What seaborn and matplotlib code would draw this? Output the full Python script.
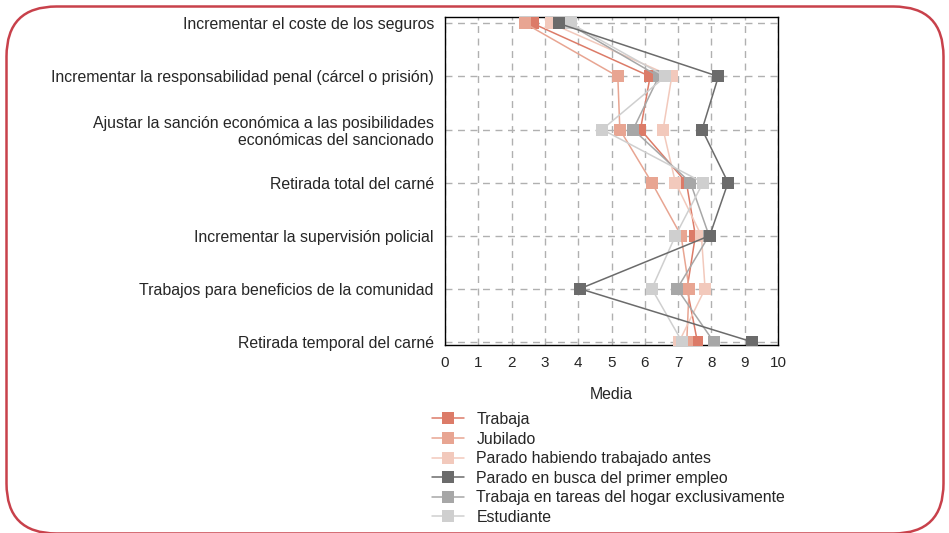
import numpy as np
import pandas as pd
import matplotlib
matplotlib.use("Agg")
import matplotlib.pyplot as plt
import seaborn as sns
from matplotlib.patches import FancyBboxPatch

sns.set_style("white")
plt.rcParams['font.family'] = ['Liberation Sans', 'DejaVu Sans']

# ==========================================================
# DATA
# ==========================================================

medidas = [
    "Incrementar el coste de los seguros",
    "Incrementar la responsabilidad penal (cárcel o prisión)",
    "Ajustar la sanción económica a las posibilidades\neconómicas del sancionado",
    "Retirada total del carné",
    "Incrementar la supervisión policial",
    "Trabajos para beneficios de la comunidad",
    "Retirada temporal del carné",
]

grupos = [
    "Trabaja",
    "Jubilado",
    "Parado habiendo trabajado antes",
    "Parado en busca del primer empleo",
    "Trabaja en tareas del hogar exclusivamente",
    "Estudiante",
]

trabaja = [2.63, 6.16, 5.87, 7.25, 7.52, 7.27, 7.58]
jubilado = [2.40, 5.19, 5.25, 6.21, 7.09, 7.33, 7.26]
parado_antes = [3.19, 6.81, 6.55, 6.92, 7.70, 7.81, 7.03]
parado_primer = [3.41, 8.21, 7.72, 8.50, 7.95, 4.05, 9.22]
hogar = [3.68, 6.42, 5.65, 7.37, 7.93, 6.97, 8.07]
estudiante = [3.77, 6.62, 4.72, 7.75, 6.92, 6.21, 7.12]

colores = ["#dc7b68", "#e8a592", "#f2c9bc", "#6b6b6b", "#a7a7a7", "#cfcfcf"]

valores = [trabaja, jubilado, parado_antes, parado_primer, hogar, estudiante]

df = pd.concat([
    pd.DataFrame({"grupo": g, "pos": np.arange(len(medidas)), "media": v})
    for g, v in zip(grupos, valores)
])

# ==========================================================
# FIGURE
# ==========================================================

fig = plt.figure(figsize=(9.49, 5.33), dpi=100)
ax = fig.add_axes([445/949, 1-345/533, 333/949, 328/533])

for g, c in zip(grupos, colores):
    sns.lineplot(
        data=df[df["grupo"] == g],
        x="media",
        y="pos",
        orient="y",
        sort=False,
        color=c,
        marker="s",
        markersize=8,
        markeredgewidth=0,
        linewidth=1.1,
        label=g,
        ax=ax,
        zorder=5 if g == "Parado en busca del primer empleo" else 3,
        legend=False,
    )

ax.set_xlim(0, 10)
ax.set_ylim(6.06, -0.12)
ax.set_xticks(range(0, 11))
ax.set_yticks(range(len(medidas)))
ax.set_yticklabels(medidas, fontsize=11.4)
ax.tick_params(axis="x", labelsize=11, length=5, width=1, direction="out", pad=3, color="black")
ax.tick_params(axis="y", length=5, width=1, direction="out", pad=3, color="black")
ax.set_xlabel("Media", fontsize=11.4, labelpad=12)
ax.set_ylabel("")

ax.grid(True, color="#b0b0b0", linestyle=(0, (5, 4)), linewidth=1)
ax.set_axisbelow(True)
for s in ax.spines.values():
    s.set_color("black")
    s.set_linewidth(1)

ax.legend(
    loc="upper left",
    bbox_to_anchor=(432/949, 1-412/533),
    bbox_transform=fig.transFigure,
    frameon=False,
    fontsize=11.4,
    handlelength=2.0,
    handletextpad=0.8,
    labelspacing=0.29,
    borderpad=0,
    borderaxespad=0,
)

# marco redondeado
fig.patches.append(FancyBboxPatch(
    (6.5, -0.5), 937, 527,
    boxstyle="round,pad=0,rounding_size=50",
    transform=None,
    facecolor="none",
    edgecolor="#c8414b",
    linewidth=1.8,
))

plt.savefig("out.png", dpi=100)
plt.close()
